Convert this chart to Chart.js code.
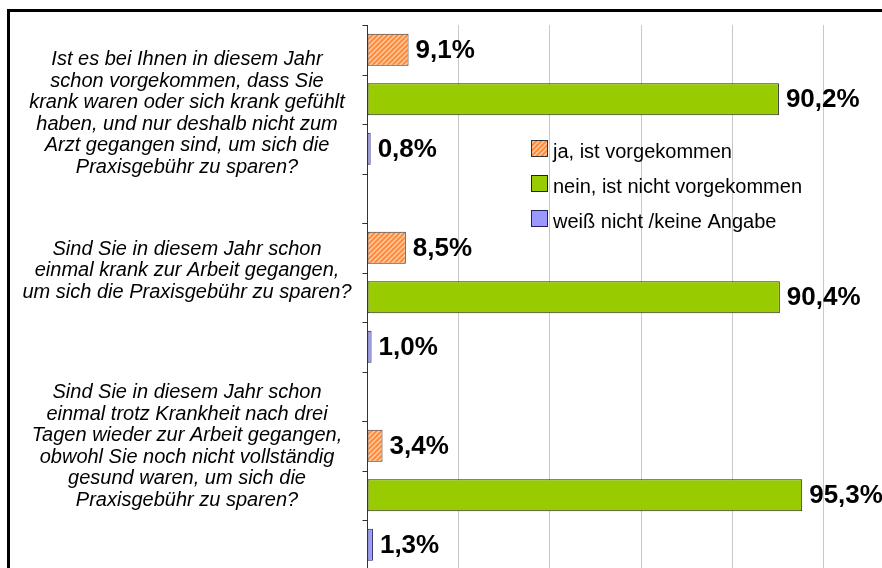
<!DOCTYPE html>
<html><head><meta charset="utf-8">
<script src="https://cdn.jsdelivr.net/npm/chart.js@4/dist/chart.umd.min.js"></script>
<style>
html,body{margin:0;padding:0;background:#fff;overflow:hidden;width:882px;height:568px;}
#frame{position:absolute;left:7px;top:9px;width:1100px;height:800px;border-left:3px solid #000;border-top:3px solid #000;}
#wrap{position:absolute;left:0;top:0;width:1000px;height:640px;}
</style></head><body>
<div id="frame"></div>
<div id="wrap"><canvas id="c" width="1000" height="640"></canvas></div>
<script>
// ---- data ----
const categories = [
  ['Ist es bei Ihnen in diesem Jahr', 'schon vorgekommen, dass Sie', 'krank waren oder sich krank gefühlt', 'haben, und nur deshalb nicht zum', 'Arzt gegangen sind, um sich die', 'Praxisgebühr zu sparen?'],
  ['Sind Sie in diesem Jahr schon', 'einmal krank zur Arbeit gegangen,', 'um sich die Praxisgebühr zu sparen?'],
  ['Sind Sie in diesem Jahr schon', 'einmal trotz Krankheit nach drei', 'Tagen wieder zur Arbeit gegangen,', 'obwohl Sie noch nicht vollständig', 'gesund waren, um sich die', 'Praxisgebühr zu sparen?']
];
const seriesLabels = ['ja, ist vorgekommen', 'nein, ist nicht vorgekommen', 'weiß nicht /keine Angabe'];
const jaValues = [9.1, 8.5, 3.4];
const neinValues = [90.2, 90.4, 95.3];
const weissNichtValues = [0.8, 1.0, 1.3];
const xTickStep = 20;
const xMin = 0, xMax = 120;

// ---- styles / layout ----
const canvas = document.getElementById('c');
const ctxMain = canvas.getContext('2d');
function makeHatch(){
  const t = document.createElement('canvas'); t.width = 5; t.height = 5;
  const g = t.getContext('2d');
  g.fillStyle = '#FF8A3D'; g.fillRect(0,0,5,5);
  g.strokeStyle = '#FFD3A8'; g.lineWidth = 1.3;
  g.beginPath();
  g.moveTo(0,5); g.lineTo(5,0);
  g.moveTo(-1,1); g.lineTo(1,-1);
  g.moveTo(4,6); g.lineTo(6,4);
  g.stroke();
  return ctxMain.createPattern(t, 'repeat');
}
const hatch = makeHatch();
const labelOffsets = [-5, -46, -68];   // vertical shift of question text blocks
const lineGap = 21.5;

const overlay = {
  id: 'overlay',
  afterDatasetsDraw(chart){
    const ctx = chart.ctx, y = chart.scales.y, area = chart.chartArea;
    ctx.save();
    // axis line + slot ticks
    ctx.strokeStyle = '#333'; ctx.lineWidth = 1;
    ctx.beginPath();
    const ax = Math.round(area.left) + 0.5;
    ctx.moveTo(ax, area.top); ctx.lineTo(ax, area.bottom);
    const n = chart.data.labels.length;
    const catH = (area.bottom - area.top) / n;
    const slots = chart.data.datasets.length;
    for (let i = 0; i < n; i++){
      const c = y.getPixelForValue(i);
      for (let k = 0; k <= slots; k++){
        const ty = Math.round(c - catH/2 + k*catH/slots) + 0.5;
        ctx.moveTo(ax - 5, ty); ctx.lineTo(ax, ty);
      }
    }
    ctx.stroke();
    // data labels
    ctx.fillStyle = '#000';
    ctx.font = 'bold 26px "Liberation Sans", Arial, sans-serif';
    ctx.textAlign = 'left'; ctx.textBaseline = 'middle';
    chart.data.datasets.forEach((ds, di) => {
      if (!ds.label) return;
      chart.getDatasetMeta(di).data.forEach((bar, i) => {
        const v = ds.data[i];
        ctx.fillText(v.toFixed(1).replace('.', ',') + '%', bar.x + 7, bar.y + 1);
      });
    });
    // question labels
    ctx.font = 'italic 20px "Liberation Sans", Arial, sans-serif';
    ctx.textAlign = 'center'; ctx.textBaseline = 'alphabetic';
    chart.data.labels.forEach((lines, i) => {
      const mid = y.getPixelForValue(i) + labelOffsets[i];
      lines.forEach((ln, k) => {
        ctx.fillText(ln, 187, mid + (k - (lines.length - 1)/2) * lineGap);
      });
    });
    // legend
    ctx.font = '20px "Liberation Sans", Arial, sans-serif';
    ctx.textAlign = 'left';
    let ly = 148.5;
    chart.data.datasets.forEach(ds => {
      if (!ds.label) return;
      ctx.fillStyle = ds.backgroundColor;
      ctx.fillRect(531, ly - 8.5, 17, 17);
      ctx.strokeStyle = ds.borderColor; ctx.lineWidth = 1;
      ctx.strokeRect(531.5, ly - 8, 16, 16);
      ctx.fillStyle = '#000';
      ctx.fillText(ds.label, 553, ly + 9.5);
      ly += 35;
    });
    ctx.restore();
  }
};

new Chart(ctxMain, {
  type: 'bar',
  data: {
    labels: categories,
    datasets: [
      { label: seriesLabels[0], data: jaValues, backgroundColor: hatch, borderColor: '#333', borderWidth: 1, borderSkipped: false },
      { label: seriesLabels[1], data: neinValues, backgroundColor: '#99CC00', borderColor: '#222', borderWidth: 1, borderSkipped: false },
      { label: seriesLabels[2], data: weissNichtValues, backgroundColor: '#9999FF', borderColor: '#22225a', borderWidth: 1, borderSkipped: false },
      { label: '', data: [null, null, null], backgroundColor: 'rgba(0,0,0,0)' }
    ]
  },
  options: {
    indexAxis: 'y',
    responsive: false,
    animation: false,
    categoryPercentage: 1,
    barPercentage: 0.646,
    layout: { padding: { top: 25, right: 85, bottom: 21, left: 0 } },
    plugins: { legend: { display: false }, tooltip: { enabled: false } },
    scales: {
      x: {
        min: xMin, max: xMax,
        ticks: { stepSize: xTickStep, display: false },
        grid: { color: c => c.tick && c.tick.value === 0 ? 'rgba(0,0,0,0)' : '#C8C8C8', drawTicks: false, lineWidth: 1 },
        border: { display: false },
        afterFit: s => { s.height = 0; }
      },
      y: {
        ticks: { display: false },
        grid: { display: false },
        border: { display: false },
        afterFit: s => { s.width = 367; }
      }
    }
  },
  plugins: [overlay]
});
</script></body></html>
